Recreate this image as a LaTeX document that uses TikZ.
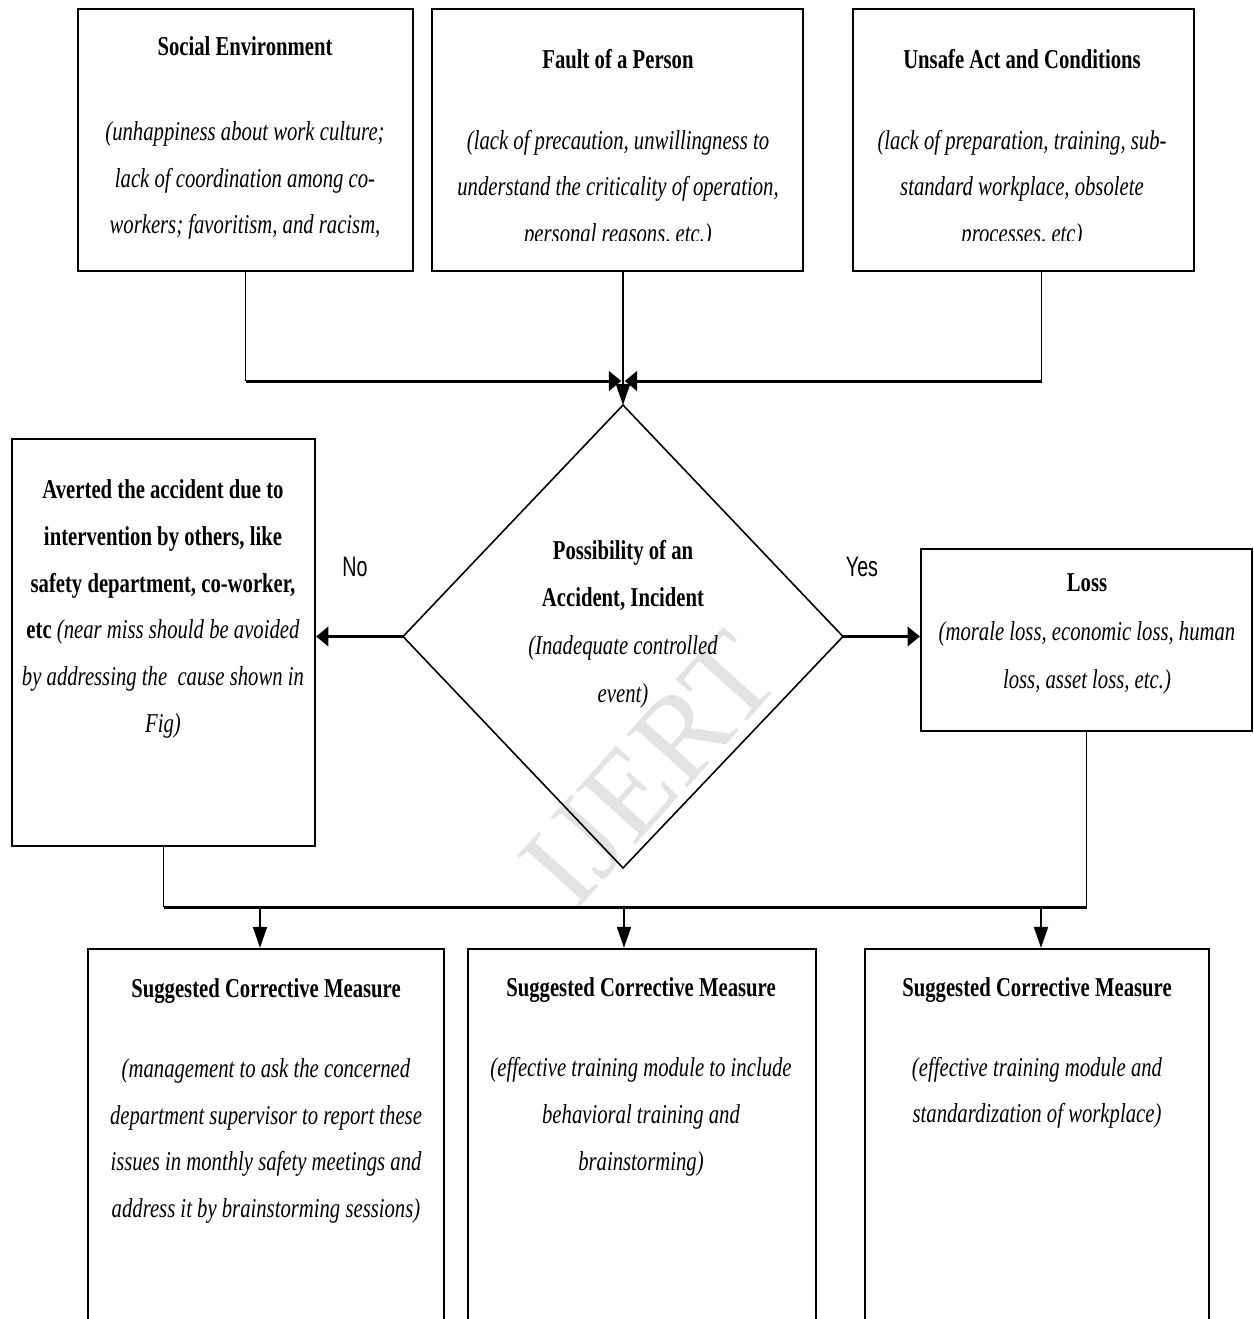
\documentclass[tikz,border=0pt]{standalone}
\usepackage{fontspec}
\setmainfont{Liberation Serif}[FakeStretch=0.76]
\newfontfamily\labelfont{Liberation Sans}[FakeStretch=0.7]
\newfontfamily\markfont{Liberation Serif}
\usepackage{tikz}
\usetikzlibrary{positioning,fit,calc,shapes.geometric,arrows.meta}

\begin{document}
\begin{tikzpicture}[x=0.02cm, y=-0.02cm,
    box/.style={draw, line width=1.3pt, inner sep=0pt},
    txt/.style={align=center, inner sep=0pt, font=\fontsize{15.5}{26.6}\selectfont},
    conn/.style={line width=0.9pt},
    bus/.style={line width=1.7pt},
    down/.style={line width=1.1pt, -{Triangle[length=12pt,width=8pt]}},
    side/.style={line width=2.2pt, -{Triangle[length=7pt,width=11pt]}}]
  \useasboundingbox (0,0) rectangle (1254,1319);
  \clip (0,0) rectangle (1254,1319);

  % watermark
  \node[text=gray!22, rotate=48, font=\markfont\fontsize{70}{70}\selectfont] (mark) at (650,770) {IJERT};

  % causes
  \node[box, fit={(78,9) (413,271)}] (social) {};
  \node[box, fit={(432,9) (803,271)}] (fault) {};
  \node[box, fit={(853,9) (1194,271)}] (unsafe) {};
  \node[txt] (social-txt) at (245,138)
    {\textbf{Social Environment}\\[22pt]
     \itshape (unhappiness about work culture;\\
     \itshape lack of coordination among co-\\
     \itshape workers; favoritism, and racism,};
  \begin{scope}
    \clip (432,0) rectangle (1194,240);
    \node[txt] (fault-txt) at (618,149)
      {\textbf{Fault of a Person}\\[19pt]
       \itshape (lack of precaution, unwillingness to\\
       \itshape understand the criticality of operation,\\
       \itshape personal reasons, etc.)};
    \node[txt] (unsafe-txt) at (1022,149)
      {\textbf{Unsafe Act and Conditions}\\[19pt]
       \itshape (lack of preparation, training, sub-\\
       \itshape standard workplace, obsolete\\
       \itshape processes, etc)};
  \end{scope}

  % decision
  \node[draw, diamond, line width=0.9pt, inner sep=0pt, outer sep=0pt,
        minimum width=8.8cm, minimum height=9.26cm] (risk) at (623,636.5) {};
  \node[txt, font=\fontsize{15.5}{27.2}\selectfont] (risk-txt) at (623,624)
    {\textbf{Possibility of an}\\
     \textbf{Accident, Incident}\\
     \itshape (Inadequate controlled\\
     \itshape event)};

  % outcomes
  \node[box, fit={(12,439) (315,846)}] (averted) {};
  \node[txt] (averted-txt) at (163,609)
    {\textbf{Averted the accident due to}\\
     \textbf{intervention by others, like}\\
     \textbf{safety department, co-worker,}\\
     \textbf{etc} \textit{(near miss should be avoided}\\
     \textit{by addressing the\ \ cause shown in}\\
     \textit{Fig)}};
  \node[box, fit={(921,549) (1252,731)}] (loss) {};
  \node[txt, font=\fontsize{15.5}{27.6}\selectfont] (loss-txt) at (1087,634)
    {\textbf{Loss}\\
     \itshape (morale loss, economic loss, human\\
     \itshape loss, asset loss, etc.)};
  \node[font=\labelfont\fontsize{16}{19}\selectfont] (no) at (355,567) {No};
  \node[font=\labelfont\fontsize{16}{19}\selectfont] (yes) at (862,567) {Yes};

  % measures
  \node[box, fit={(88,949) (444,1360)}] (measure-a) {};
  \node[box, fit={(468,949) (816,1360)}] (measure-b) {};
  \node[box, fit={(865,949) (1209,1360)}] (measure-c) {};
  \node[txt] (measure-a-txt) at (266,1101)
    {\textbf{Suggested Corrective Measure}\\[19pt]
     \itshape (management to ask the concerned\\
     \itshape department supervisor to report these\\
     \itshape issues in monthly safety meetings and\\
     \itshape address it by brainstorming sessions)};
  \node[txt] (measure-b-txt) at (641,1077)
    {\textbf{Suggested Corrective Measure}\\[19pt]
     \itshape (effective training module to include\\
     \itshape behavioral training and\\
     \itshape brainstorming)};
  \node[txt] (measure-c-txt) at (1037,1053)
    {\textbf{Suggested Corrective Measure}\\[19pt]
     \itshape (effective training module and\\
     \itshape standardization of workplace)};

  % connectors
  \coordinate (join) at (623,381);
  \draw[conn] (social.south) -- (social.south |- join);
  \draw[conn] ($(unsafe.south)+(18,0)$) -- ($(unsafe.south |- join)+(18,0)$);
  \draw[bus, -{Triangle[length=7pt,width=11pt]}] (social.south |- join) -- ([xshift=-1pt]join);
  \draw[bus, -{Triangle[length=7pt,width=11pt]}] ($(unsafe.south |- join)+(18,0)$) -- ([xshift=1pt]join);
  \draw[down] (fault.south -| risk.north) -- (risk.north);
  \draw[side] (risk.west) -- (risk.west -| averted.east);
  \draw[side] (risk.east) -- (risk.east -| loss.west);

  \coordinate (drop-a) at (260,907);
  \coordinate (drop-b) at (624,907);
  \coordinate (drop-c) at (1041,907);
  \draw[conn] (averted.south) -- (averted.south |- drop-b);
  \draw[conn] (loss.south) -- (loss.south |- drop-b);
  \draw[bus] (averted.south |- drop-b) -- (loss.south |- drop-b);
  \draw[down] (drop-a) -- (drop-a |- measure-a.north);
  \draw[down] (drop-b) -- (drop-b |- measure-b.north);
  \draw[down] (drop-c) -- (drop-c |- measure-c.north);
\end{tikzpicture}
\end{document}
